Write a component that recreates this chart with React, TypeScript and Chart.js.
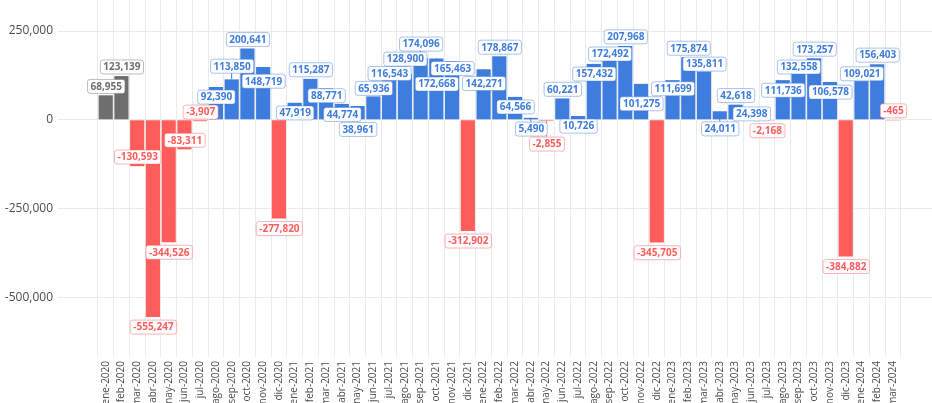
import React, { useEffect, useRef } from "react";
import { Chart, registerables } from "chart.js";

Chart.register(...registerables);

const months = [
  "ene-2020", "feb-2020", "mar-2020", "abr-2020", "may-2020", "jun-2020", "jul-2020", "ago-2020", "sep-2020", "oct-2020", "nov-2020", "dic-2020",
  "ene-2021", "feb-2021", "mar-2021", "abr-2021", "may-2021", "jun-2021", "jul-2021", "ago-2021", "sep-2021", "oct-2021", "nov-2021", "dic-2021",
  "ene-2022", "feb-2022", "mar-2022", "abr-2022", "may-2022", "jun-2022", "jul-2022", "ago-2022", "sep-2022", "oct-2022", "nov-2022", "dic-2022",
  "ene-2023", "feb-2023", "mar-2023", "abr-2023", "may-2023", "jun-2023", "jul-2023", "ago-2023", "sep-2023", "oct-2023", "nov-2023", "dic-2023",
  "ene-2024", "feb-2024", "mar-2024",
];

const values = [
  68955, 123139, -130593, -555247, -344526, -83311, -3907, 92390, 113850, 200641, 148719, -277820,
  47919, 115287, 88771, 44774, 38961, 65936, 116543, 128900, 174096, 172668, 165463, -312902,
  142271, 178867, 64566, 5490, -2855, 60221, 10726, 157432, 172492, 207968, 101275, -345705,
  111699, 175874, 135811, 24011, 42618, 24398, -2168, 111736, 132558, 173257, 106578, -384882,
  109021, 156403, -465,
];

// months before the pandemic, shown in grey
const referenceMonths = ["ene-2020", "feb-2020"];

const yTicks = [-500000, -250000, 0, 250000];

const BLUE = "#3e7ddd";
const RED = "#ff5c5c";
const GREY = "#6e6e6e";

function barColor(i: number): string {
  if (referenceMonths.includes(months[i])) return GREY;
  return values[i] < 0 ? RED : BLUE;
}
function labelBorder(i: number): string {
  if (referenceMonths.includes(months[i])) return "rgba(110,110,110,0.45)";
  return values[i] < 0 ? "rgba(255,92,92,0.45)" : "rgba(62,125,221,0.45)";
}

const fmt = (v: number) => v.toLocaleString("en-US");

const repelLabels = {
  id: "repelLabels",
  afterDatasetsDraw(chart: any) {
    const meta = chart.getDatasetMeta(0);
    const ctx = chart.ctx as CanvasRenderingContext2D;
    const area = chart.chartArea;
    ctx.save();
    ctx.font = 'bold 10px "Open Sans"';
    const padX = 3;
    const h = 14;
    const items = meta.data.map((bar: any, i: number) => {
      const text = fmt(values[i]);
      const w = ctx.measureText(text).width + padX * 2;
      const prev = i > 0 ? values[i - 1] : 0;
      const next = i < values.length - 1 ? values[i + 1] : 0;
      const v = values[i];
      const outward = v >= 0 ? -1 : 1;
      const extreme = Math.abs(v) >= (Math.abs(prev) + Math.abs(next)) / 2;
      const dir = extreme ? outward : -outward;
      return { x: bar.x, tipY: bar.y, y: bar.y + dir * 0.5, w, h, text, dir, i };
    });
    const pointPad = 3;
    const boxPad = 1;
    for (let it = 0; it < 600; it++) {
      for (const a of items) a.y += (a.tipY - a.y) * 0.04;
      for (const a of items) {
        for (const p of items) {
          if (Math.abs(p.x - a.x) < a.w / 2 + 1) {
            const half = a.h / 2 + pointPad;
            const dy = a.y - p.tipY;
            if (Math.abs(dy) < half) {
              const s = dy === 0 ? a.dir : Math.sign(dy);
              a.y += (p.tipY + s * half - a.y) * 0.5;
            }
          }
        }
      }
      for (let m = 0; m < items.length; m++) {
        for (let n = m + 1; n < items.length; n++) {
          const a = items[m];
          const b = items[n];
          if (Math.abs(a.x - b.x) < (a.w + b.w) / 2 + boxPad) {
            const dy = a.y - b.y;
            const need = (a.h + b.h) / 2 + boxPad;
            if (Math.abs(dy) < need) {
              const s = dy === 0 ? a.dir : Math.sign(dy);
              const ov = need - Math.abs(dy);
              a.y += (s * ov) / 2;
              b.y -= (s * ov) / 2;
            }
          }
        }
      }
      for (const a of items) {
        a.y = Math.max(area.top + a.h / 2 + 1, Math.min(area.bottom - a.h / 2 - 1, a.y));
      }
    }
    ctx.textAlign = "center";
    ctx.textBaseline = "middle";
    for (const a of items) {
      const top = a.y - a.h / 2;
      const bottom = a.y + a.h / 2;
      const color = barColor(a.i);
      let edge: number | null = null;
      if (a.tipY < top - 3) edge = top;
      else if (a.tipY > bottom + 3) edge = bottom;
      if (edge !== null) {
        ctx.strokeStyle = color;
        ctx.lineWidth = 1;
        ctx.beginPath();
        ctx.moveTo(a.x, a.tipY);
        ctx.lineTo(a.x, edge);
        ctx.stroke();
      }
    }
    for (const a of items) {
      const left = a.x - a.w / 2;
      const top = a.y - a.h / 2;
      ctx.beginPath();
      (ctx as any).roundRect(left + 0.5, top + 0.5, a.w, a.h, 2.5);
      ctx.fillStyle = "#ffffff";
      ctx.fill();
      ctx.strokeStyle = labelBorder(a.i);
      ctx.lineWidth = 1;
      ctx.stroke();
      ctx.fillStyle = barColor(a.i);
      ctx.fillText(a.text, a.x + 0.5, a.y + 1);
    }
    ctx.restore();
  },
};

export default function App() {
  const ref = useRef<HTMLCanvasElement | null>(null);
  useEffect(() => {
    if (!ref.current) return;
    const chart = new Chart(ref.current, {
      type: "bar",
      data: {
        datasets: [
          {
            data: values.map((v, i) => ({ x: i, y: v })),
            backgroundColor: values.map((_, i) => barColor(i)),
            barPercentage: 0.9,
            categoryPercentage: 1,
          },
        ],
      },
      options: {
        animation: false,
        responsive: false,
        devicePixelRatio: 1,
        layout: { padding: 0 },
        plugins: { legend: { display: false }, tooltip: { enabled: false }, title: { display: false } },
        scales: {
          x: {
            type: "linear",
            min: -3.03,
            max: 52.48,
            offset: false,
            grid: { color: "#ebebeb", drawTicks: false },
            border: { display: false },
            afterBuildTicks: (scale: any) => {
              scale.ticks = months.map((_, i) => ({ value: i }));
            },
            afterFit: (scale: any) => {
              scale.height = 60;
              scale.paddingLeft = 0;
              scale.paddingRight = 0;
            },
            ticks: {
              autoSkip: false,
              minRotation: 90,
              maxRotation: 90,
              padding: 4,
              color: "#4d4d4d",
              font: { family: "Open Sans", size: 10 },
              callback: (v: any) => months[v] ?? "",
            },
          },
          y: {
            min: -668000,
            max: 337400,
            grid: { color: "#ebebeb", drawTicks: false },
            border: { display: false },
            afterBuildTicks: (scale: any) => {
              scale.ticks = yTicks.map((v) => ({ value: v }));
            },
            afterFit: (scale: any) => {
              scale.width = 58;
              scale.paddingTop = 0;
              scale.paddingBottom = 0;
            },
            ticks: {
              padding: 5,
              color: "#4d4d4d",
              font: { family: "Open Sans", size: 12 },
              callback: (v: any) => fmt(Number(v)),
            },
          },
        },
      },
      plugins: [repelLabels],
    });
    return () => chart.destroy();
  }, []);
  return (
    <div style={{ position: "fixed", left: 0, top: 0, width: 932, height: 403, overflow: "hidden", background: "#fff" }}>
      <canvas ref={ref} width={932} height={417} style={{ display: "block", width: 932, height: 417 }} />
    </div>
  );
}
